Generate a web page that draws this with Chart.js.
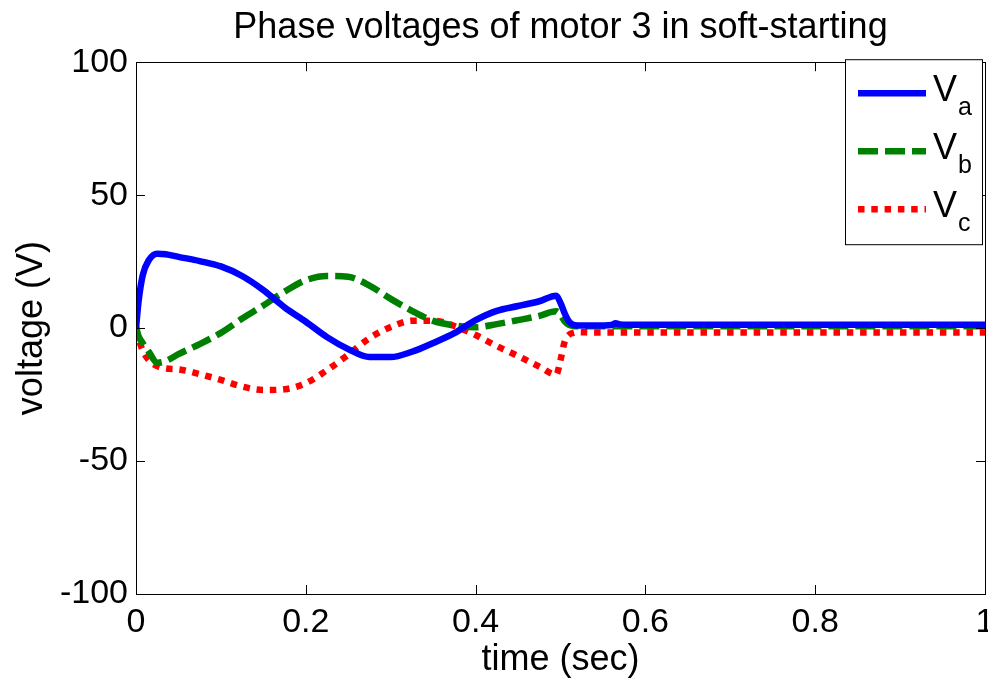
<!DOCTYPE html>
<html>
<head>
<meta charset="utf-8">
<script src="https://cdn.jsdelivr.net/npm/chart.js@4/dist/chart.umd.min.js"></script>
<style>
  html, body { margin: 0; padding: 0; background: #fff; }
  canvas { display: block; }
</style>
</head>
<body>
<canvas id="chart" width="988" height="686"></canvas>
<script>
// sample times (s) and phase voltages (V)
const time = [0, 0.003, 0.008, 0.015, 0.025, 0.035, 0.05, 0.075, 0.1, 0.125,
  0.15, 0.175, 0.2, 0.225, 0.25, 0.275, 0.3, 0.325, 0.35, 0.375,
  0.4, 0.425, 0.45, 0.475, 0.495, 0.5, 0.505, 0.51, 0.515, 0.52,
  0.54, 0.56, 0.565, 0.57, 0.58, 0.6, 0.7, 0.8, 0.9, 1.0];
const va = [0, 10, 20, 25.5, 28, 27.8, 26.8, 25.2, 23.2, 19.6,
  14.3, 7.8, 2.4, -3.4, -7.9, -10.9, -10.9, -8.9, -5.6, -1.9,
  3, 6.5, 8.3, 10.1, 12.2, 9.5, 5.5, 2.5, 1.2, 1,
  1, 1.2, 1.8, 1.4, 1.3, 1.3, 1.3, 1.3, 1.3, 1.3];
const vb = [0.5, -3, -5.7, -8.9, -13, -12.4, -9.8, -6, -1.8, 3.6,
  8.5, 13.7, 18, 19.6, 19.3, 16, 11, 6.5, 2.7, 1,
  0.3, 1.5, 3, 4.6, 6.3, 5, 2.5, 1.2, 0.8, 0.7,
  0.7, 0.7, 0.7, 0.7, 0.7, 0.7, 0.7, 0.7, 0.7, 0.7];
const vc = [-0.5, -4, -8.5, -12, -14.3, -15.2, -15.5, -17.3, -19.5, -22,
  -23.3, -23, -20.7, -15.8, -10, -3.8, 0.4, 2.8, 2.8, 0.8,
  -2.6, -6.8, -10.5, -14.5, -17.5, -12, -5, -2.5, -1.8, -1.5,
  -1.7, -1.7, -1.7, -1.7, -1.7, -1.7, -1.7, -1.7, -1.7, -1.7];

const xTicks = [0, 0.2, 0.4, 0.6, 0.8, 1];
const yTicks = [-100, -50, 0, 50, 100];
const phases = ['a', 'b', 'c'];
const colors = ['#0000ff', '#008000', '#ff0000'];
const dashes = [[], [20, 7], [6.5, 6.8]];

const FONT = '"Liberation Sans", Arial, Helvetica, sans-serif';

function toPoints(vals) {
  return time.map((t, i) => ({x: t, y: vals[i]}));
}

// matlab-style box with inward ticks, plus the legend with subscripts
const frame = {
  id: 'frame',
  afterDraw(chart) {
    const {ctx, chartArea: a, scales: {x, y}} = chart;
    ctx.save();
    ctx.strokeStyle = '#000';
    ctx.lineWidth = 1;
    ctx.strokeRect(Math.round(a.left) + 0.5, Math.round(a.top) + 0.5,
      Math.round(a.right - a.left), Math.round(a.bottom - a.top));
    ctx.beginPath();
    const len = 9;
    xTicks.forEach(v => {
      const px = Math.round(x.getPixelForValue(v)) + 0.5;
      ctx.moveTo(px, a.bottom); ctx.lineTo(px, a.bottom - len);
      ctx.moveTo(px, a.top); ctx.lineTo(px, a.top + len);
    });
    yTicks.forEach(v => {
      const py = Math.round(y.getPixelForValue(v)) + 0.5;
      ctx.moveTo(a.left, py); ctx.lineTo(a.left + len, py);
      ctx.moveTo(a.right, py); ctx.lineTo(a.right - len, py);
    });
    ctx.stroke();

    // legend box
    const bx = a.right - 140, by = a.top - 3, bw = 137, bh = 185;
    ctx.fillStyle = '#fff';
    ctx.fillRect(bx, by, bw, bh);
    ctx.strokeRect(bx + 0.5, by + 0.5, bw, bh);
    phases.forEach((p, i) => {
      const ly = by + 34 + i * 58;
      ctx.beginPath();
      ctx.strokeStyle = colors[i];
      ctx.lineWidth = 6.5;
      ctx.setLineDash(dashes[i]);
      ctx.moveTo(bx + 13, ly);
      ctx.lineTo(bx + 81, ly);
      ctx.stroke();
      ctx.setLineDash([]);
      ctx.fillStyle = '#000';
      ctx.textAlign = 'left';
      ctx.textBaseline = 'alphabetic';
      ctx.font = '36px ' + FONT;
      ctx.fillText('V', bx + 88, ly + 8);
      ctx.font = '25px ' + FONT;
      ctx.fillText(p, bx + 113, ly + 22);
    });
    ctx.restore();
  }
};

new Chart(document.getElementById('chart'), {
  type: 'line',
  data: {
    datasets: phases.map((p, i) => ({
      label: 'V' + p,
      data: toPoints([va, vb, vc][i]),
      borderColor: colors[i],
      borderWidth: 6.5,
      borderDash: dashes[i],
      borderCapStyle: 'butt',
      pointRadius: 0,
      cubicInterpolationMode: 'monotone',
      fill: false
    }))
  },
  options: {
    responsive: false,
    animation: false,
    events: [],
    layout: { autoPadding: false, padding: { right: 3 } },
    plugins: {
      legend: { display: false },
      tooltip: { enabled: false },
      title: {
        display: true,
        fullSize: false,
        text: 'Phase voltages of motor 3 in soft-starting',
        color: '#000',
        font: { family: FONT, size: 36, weight: 'normal' },
        padding: { top: 6, bottom: 13 }
      }
    },
    scales: {
      x: {
        type: 'linear',
        min: 0, max: 1,
        afterBuildTicks: s => { s.ticks = xTicks.map(v => ({value: v})); },
        afterFit: s => { s.height = 92; s.paddingLeft = 0; s.paddingRight = 0; },
        grid: { drawOnChartArea: false, drawTicks: false },
        border: { display: false },
        ticks: { color: '#000', padding: 8, maxRotation: 0, callback: v => String(v), font: { family: FONT, size: 34 } },
        title: { display: true, text: 'time (sec)', color: '#000', padding: { top: 0, bottom: 4 }, font: { family: FONT, size: 36 } }
      },
      y: {
        min: -100, max: 100,
        afterBuildTicks: s => { s.ticks = yTicks.map(v => ({value: v})); },
        afterFit: s => { s.width = 136; s.paddingTop = 0; s.paddingBottom = 0; },
        grid: { drawOnChartArea: false, drawTicks: false },
        border: { display: false },
        ticks: { color: '#000', padding: 8, callback: v => String(v), font: { family: FONT, size: 34 } },
        title: { display: true, text: 'voltage (V)', color: '#000', padding: { top: 10, bottom: 0 }, font: { family: FONT, size: 36 } }
      }
    }
  },
  plugins: [frame]
});
</script>
</body>
</html>
